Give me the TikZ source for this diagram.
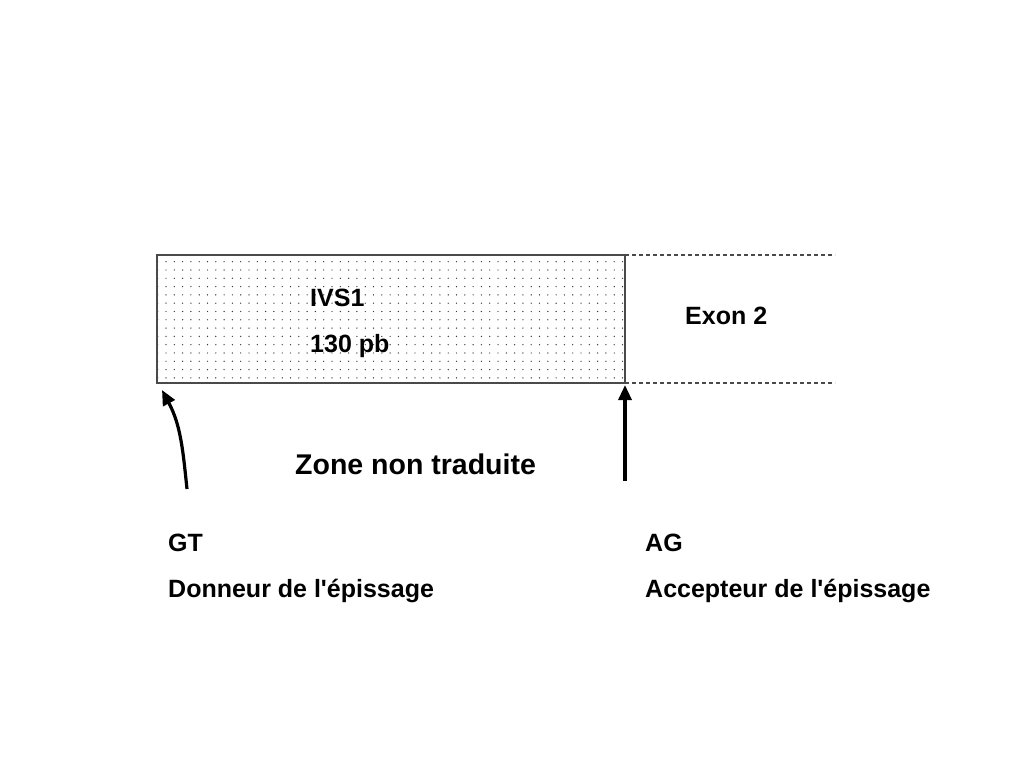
\documentclass[tikz,border=0pt]{standalone}
\usepackage{fontspec}
\setmainfont{Liberation Sans}
\usepackage{xcolor}
\definecolor{boxLine}{HTML}{4A4A4A}
\definecolor{dotGrey}{HTML}{3A3A3A}
\usetikzlibrary{arrows.meta, positioning, calc, patterns.meta}
\tikzset{
    lbl/.style={anchor=west, inner sep=0pt, font=\bfseries\fontsize{25}{29}\selectfont},
    biglbl/.style={lbl, font=\bfseries\fontsize{28.5}{33}\selectfont},
    intron/.style={draw=boxLine, line width=1.6pt,
                   pattern={Dots[distance=8.3pt, radius=0.7pt]}, pattern color=dotGrey},
    exonedge/.style={-, dashed, dash pattern=on 4pt off 3pt, boxLine, line width=1.2pt},
    site/.style={-{Triangle[length=15pt, width=13pt]}, line width=3.2pt},
}
\begin{document}
\begin{tikzpicture}[x=1pt, y=-1pt]
    \useasboundingbox (0,0) rectangle (1024,768);
    % intron box and exon limits
    \node[intron, minimum width=468pt, minimum height=128pt, inner sep=0pt,
          outer sep=0pt, anchor=north west] (ivs) at (157,255) {};
    \coordinate (exEnd) at (835,0);
    \draw[exonedge] (ivs.north east) -- (ivs.north east -| exEnd);
    \draw[exonedge] (ivs.south east) -- (ivs.south east -| exEnd);
    % labels
    \node[lbl] (ivsname) at (310,298) {IVS1};
    \node[lbl] (ivslen) at (310,346) {130 pb};
    \node[lbl] (exon) at (685,316) {Exon 2};
    \node[biglbl] (utr) at (295,464) {Zone non traduite};
    \node[lbl] (gt) at (168,543) {GT};
    \node[lbl, below=27pt of gt.south west, anchor=north west] (donor) {Donneur de l\textquotesingle épissage};
    \node[lbl] (ag) at (645,543) {AG};
    \node[lbl, below=27pt of ag.south west, anchor=north west] (acceptor) {Accepteur de l\textquotesingle épissage};
    % splice site arrows
    \coordinate (gtfoot) at (187,489);
    \coordinate (agfoot) at (625,481);
    \draw[site] (gtfoot) to[out=96, in=-62] ($(ivs.south west)+(5,7)$);
    \draw[site] (agfoot) -- ($(ivs.south east)+(0,2)$);
\end{tikzpicture}
\end{document}
